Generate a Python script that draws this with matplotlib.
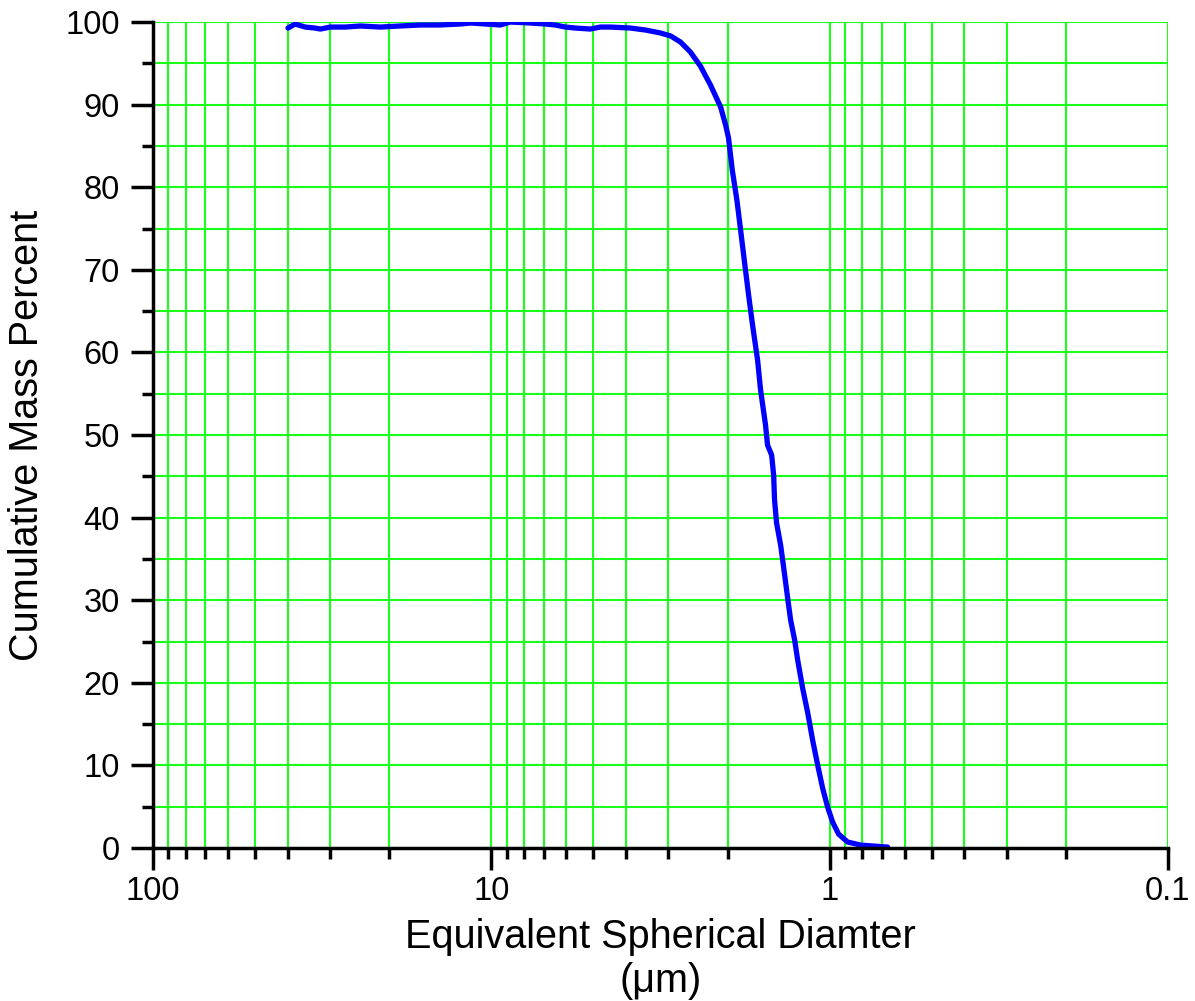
import matplotlib
matplotlib.use("Agg")
import matplotlib.pyplot as plt
from matplotlib.ticker import LogLocator, FixedLocator, FixedFormatter, NullFormatter
import numpy as np

plt.rcParams['font.family'] = ['Liberation Sans', 'DejaVu Sans']

# diameter (um) and cumulative mass percent
diameter = [39.9, 38.0, 35.5, 33.2, 32.0, 29.9, 27.0, 24.4, 21.3, 18.6,
            16.2, 14.2, 12.35, 11.5, 10.4, 9.4, 8.79, 7.67, 6.92, 6.47,
            6.04, 5.64, 5.10, 4.76, 4.44, 3.88, 3.50, 3.16, 2.95, 2.76,
            2.58, 2.41, 2.25, 2.10, 2.03, 1.99, 1.94, 1.88, 1.83, 1.785,
            1.736, 1.69, 1.633, 1.60, 1.547, 1.526, 1.484, 1.464, 1.455, 1.435,
            1.396, 1.368, 1.331, 1.304, 1.269, 1.243, 1.202, 1.162, 1.123, 1.085,
            1.049, 1.014, 0.980, 0.941, 0.885, 0.810, 0.741, 0.674]
mass_pct = [99.27, 99.76, 99.39, 99.27, 99.15, 99.39, 99.39, 99.52, 99.39, 99.52,
            99.64, 99.64, 99.76, 99.88, 99.76, 99.64, 100.0, 99.88, 99.76, 99.64,
            99.39, 99.27, 99.15, 99.39, 99.39, 99.27, 99.03, 98.67, 98.31, 97.58,
            96.37, 94.67, 92.37, 89.71, 87.53, 85.96, 82.08, 78.45, 74.58, 70.94,
            66.95, 63.32, 59.08, 55.45, 51.21, 48.79, 47.58, 45.16, 42.13, 39.35,
            36.68, 34.02, 30.27, 27.60, 25.18, 22.76, 19.37, 16.46, 13.08, 10.05,
            7.26, 4.96, 3.15, 1.69, 0.73, 0.36, 0.24, 0.12]

x_ticks = [100, 10, 1, 0.1]
x_tick_labels = ["100", "10", "1", "0.1"]

fig = plt.figure(figsize=(11.95, 10.01), dpi=100)
ax = fig.add_axes([0.128, 0.1528, 0.8494, 0.8252])

ax.plot(diameter, mass_pct, color='#0000ff', lw=3.8, zorder=3,
        solid_joinstyle='round', solid_capstyle='round')

ax.set_xscale('log')
ax.set_xlim(100, 0.1)
ax.set_ylim(0, 100)

ax.xaxis.set_major_locator(FixedLocator(x_ticks))
ax.xaxis.set_major_formatter(FixedFormatter(x_tick_labels))
ax.xaxis.set_minor_locator(LogLocator(base=10, subs=np.arange(2, 10)))
ax.xaxis.set_minor_formatter(NullFormatter())
ax.set_yticks(np.arange(0, 101, 10))
ax.set_yticks(np.arange(5, 100, 10), minor=True)

grid_color = '#1aff1a'
ax.grid(True, which='both', axis='both', color=grid_color, lw=1.5, zorder=0)
ax.set_axisbelow(True)

for side in ['top', 'right']:
    ax.spines[side].set_visible(False)
for side in ['left', 'bottom']:
    ax.spines[side].set_linewidth(2.5)
    ax.spines[side].set_zorder(4)

ax.tick_params(which='major', direction='out', length=16, width=2.5,
               labelsize=23.5, pad=4)
ax.tick_params(which='minor', direction='out', length=8, width=2.5)
ax.tick_params(axis='y', which='major', pad=8)

ax.set_xlabel("Equivalent Spherical Diamter\n(\u03bcm)", fontsize=28.5,
              linespacing=1.2, labelpad=8)
ax.set_ylabel("Cumulative Mass Percent", fontsize=28.5, labelpad=14)

fig.savefig("out.png", dpi=100)
